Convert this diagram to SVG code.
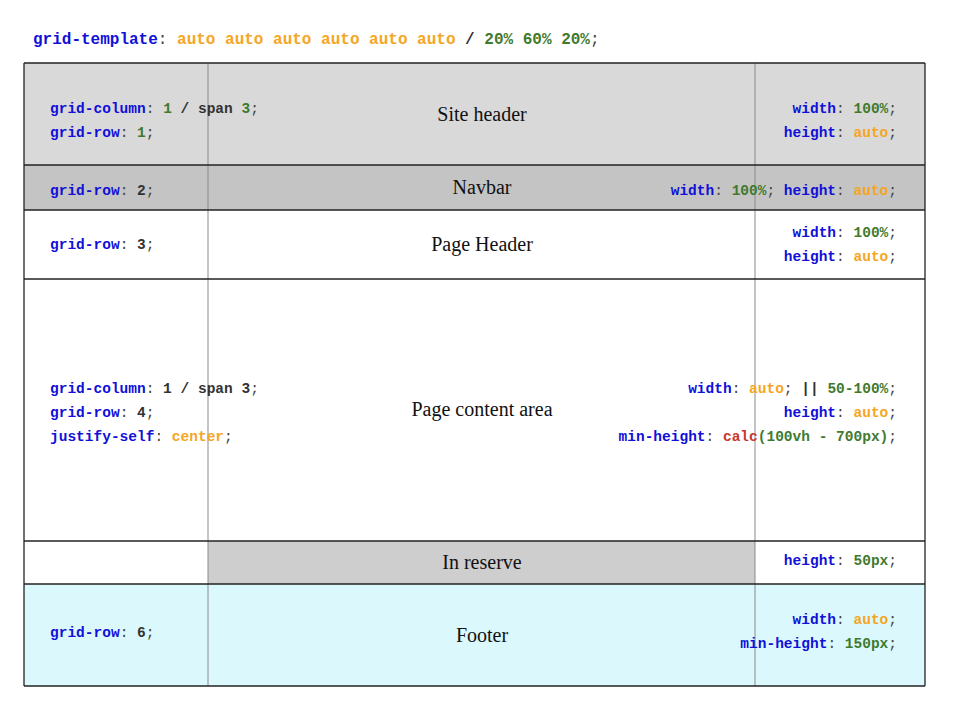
<svg xmlns="http://www.w3.org/2000/svg" width="960" height="720" viewBox="0 0 960 720">
<style>
.code{font-family:"Liberation Mono","Courier New",monospace;font-weight:bold;font-size:14.5px;fill:#333}
.top{font-size:16px}
.r{text-anchor:end}
.p{fill:#1010d8}
.g{fill:#3f7a2e}
.o{fill:#f5a623}
.c{fill:#c8372d}
.k{fill:#444;font-weight:normal}
.lbl{font-family:"Liberation Serif","Times New Roman",serif;font-size:20px;fill:#111;text-anchor:middle}
.hl{stroke:#222;stroke-width:1.3}
.vl{stroke:#8a8a8a;stroke-width:1}
</style>
<rect width="960" height="720" fill="#fff"/>
<text class="code top" x="33" y="44"><tspan class="p">grid-template</tspan><tspan class="k">:</tspan> <tspan class="o">auto auto auto auto auto auto</tspan> / <tspan class="g">20% 60% 20%</tspan><tspan class="k">;</tspan></text>

<g id="backgrounds">
<rect x="24" y="63" width="901" height="102" fill="#d9d9d9"/>
<rect x="24" y="165" width="901" height="45" fill="#c4c4c4"/>
<rect x="208" y="541" width="547" height="43" fill="#cecece"/>
<rect x="24" y="584" width="901" height="102" fill="#dbf9fc"/>
</g>

<g id="grid-lines">
<line class="vl" x1="208" y1="63" x2="208" y2="686"/>
<line class="vl" x1="755" y1="63" x2="755" y2="686"/>
<line class="hl" x1="24" y1="63" x2="925" y2="63"/>
<line class="hl" x1="24" y1="165" x2="925" y2="165"/>
<line class="hl" x1="24" y1="210" x2="925" y2="210"/>
<line class="hl" x1="24" y1="279" x2="925" y2="279"/>
<line class="hl" x1="24" y1="541" x2="925" y2="541"/>
<line class="hl" x1="24" y1="584" x2="925" y2="584"/>
<line class="hl" x1="24" y1="686" x2="925" y2="686"/>
<line class="hl" x1="24" y1="63" x2="24" y2="686"/>
<line class="hl" x1="925" y1="63" x2="925" y2="686"/>
</g>

<g id="site-header">
<text class="code" x="50" y="113"><tspan class="p">grid-column</tspan><tspan class="k">:</tspan> <tspan class="g">1</tspan> / span <tspan class="g">3</tspan><tspan class="k">;</tspan></text>
<text class="code" x="50" y="137"><tspan class="p">grid-row</tspan><tspan class="k">:</tspan> <tspan class="g">1</tspan><tspan class="k">;</tspan></text>
<text class="lbl" x="482" y="121">Site header</text>
<text class="code r" x="897" y="113"><tspan class="p">width</tspan><tspan class="k">:</tspan> <tspan class="g">100%</tspan><tspan class="k">;</tspan></text>
<text class="code r" x="897" y="137"><tspan class="p">height</tspan><tspan class="k">:</tspan> <tspan class="o">auto</tspan><tspan class="k">;</tspan></text>
</g>

<g id="navbar">
<text class="code" x="50" y="195"><tspan class="p">grid-row</tspan><tspan class="k">:</tspan> 2<tspan class="k">;</tspan></text>
<text class="lbl" x="482" y="194">Navbar</text>
<text class="code r" x="897" y="195"><tspan class="p">width</tspan><tspan class="k">:</tspan> <tspan class="g">100%</tspan><tspan class="k">;</tspan> <tspan class="p">height</tspan><tspan class="k">:</tspan> <tspan class="o">auto</tspan><tspan class="k">;</tspan></text>
</g>

<g id="page-header">
<text class="code" x="50" y="249"><tspan class="p">grid-row</tspan><tspan class="k">:</tspan> 3<tspan class="k">;</tspan></text>
<text class="lbl" x="482" y="251">Page Header</text>
<text class="code r" x="897" y="237"><tspan class="p">width</tspan><tspan class="k">:</tspan> <tspan class="g">100%</tspan><tspan class="k">;</tspan></text>
<text class="code r" x="897" y="261"><tspan class="p">height</tspan><tspan class="k">:</tspan> <tspan class="o">auto</tspan><tspan class="k">;</tspan></text>
</g>

<g id="page-content">
<text class="code" x="50" y="393"><tspan class="p">grid-column</tspan><tspan class="k">:</tspan> 1 / span 3<tspan class="k">;</tspan></text>
<text class="code" x="50" y="417"><tspan class="p">grid-row</tspan><tspan class="k">:</tspan> 4<tspan class="k">;</tspan></text>
<text class="code" x="50" y="441"><tspan class="p">justify-self</tspan><tspan class="k">:</tspan> <tspan class="o">center</tspan><tspan class="k">;</tspan></text>
<text class="lbl" x="482" y="416">Page content area</text>
<text class="code r" x="897" y="393"><tspan class="p">width</tspan><tspan class="k">:</tspan> <tspan class="o">auto</tspan><tspan class="k">;</tspan> || <tspan class="g">50-100%</tspan><tspan class="k">;</tspan></text>
<text class="code r" x="897" y="417"><tspan class="p">height</tspan><tspan class="k">:</tspan> <tspan class="o">auto</tspan><tspan class="k">;</tspan></text>
<text class="code r" x="897" y="441"><tspan class="p">min-height</tspan><tspan class="k">:</tspan> <tspan class="c">calc</tspan><tspan class="g">(100vh - 700px)</tspan><tspan class="k">;</tspan></text>
</g>

<g id="in-reserve">
<text class="lbl" x="482" y="569">In reserve</text>
<text class="code r" x="897" y="565"><tspan class="p">height</tspan><tspan class="k">:</tspan> <tspan class="g">50px</tspan><tspan class="k">;</tspan></text>
</g>

<g id="footer">
<text class="code" x="50" y="637"><tspan class="p">grid-row</tspan><tspan class="k">:</tspan> 6<tspan class="k">;</tspan></text>
<text class="lbl" x="482" y="642">Footer</text>
<text class="code r" x="897" y="624"><tspan class="p">width</tspan><tspan class="k">:</tspan> <tspan class="o">auto</tspan><tspan class="k">;</tspan></text>
<text class="code r" x="897" y="648"><tspan class="p">min-height</tspan><tspan class="k">:</tspan> <tspan class="g">150px</tspan><tspan class="k">;</tspan></text>
</g>
</svg>
